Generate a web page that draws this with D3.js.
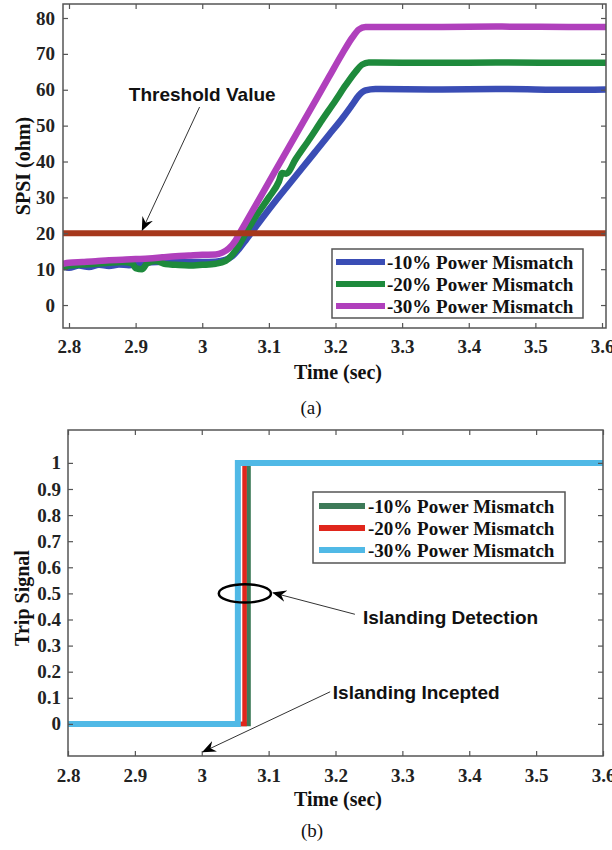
<!DOCTYPE html>
<html>
<head>
<meta charset="utf-8">
<script src="https://cdn.jsdelivr.net/npm/d3@7"></script>
<style>
  body { margin: 0; background: #fff; }
  .tick text { font-family: "Liberation Serif", "Times New Roman", serif; font-weight: bold; font-size: 19px; fill: #222; }
  .tick line { stroke: #555; stroke-width: 1.2; }
  .frame { fill: none; stroke: #555; stroke-width: 1.5; }
  .axis-label { font-family: "Liberation Serif", "Times New Roman", serif; font-weight: bold; font-size: 20px; fill: #111; }
  .legend-text { font-family: "Liberation Serif", "Times New Roman", serif; font-weight: bold; font-size: 19px; fill: #111; }
  .note { font-family: "Liberation Sans", Arial, sans-serif; font-weight: bold; font-size: 19px; fill: #111; }
  .caption { font-family: "Liberation Serif", "Times New Roman", serif; font-size: 19px; fill: #111; }
</style>
</head>
<body>
<div id="chart"></div>
<script>
// ---- data, panel (a): SPSI (ohm) against time (sec) ----
const t10 = [2.791, 2.80, 2.815, 2.83, 2.845, 2.86, 2.875, 2.89, 2.905, 2.92, 2.94, 2.96, 2.98, 3.00, 3.02, 3.035, 3.045, 3.055, 3.065, 3.075, 3.09, 3.11, 3.13, 3.15, 3.17, 3.19, 3.21, 3.225, 3.235, 3.245, 3.26, 3.35, 3.45, 3.55, 3.606];
const s10 = [10.8, 10.4, 11.0, 10.6, 11.2, 10.9, 11.3, 11.1, 11.6, 11.9, 12.1, 12.2, 12.0, 12.0, 12.1, 12.6, 13.6, 15.6, 18.0, 20.5, 24.2, 29.0, 33.6, 38.2, 42.8, 47.4, 52.0, 55.8, 58.4, 59.8, 60.2, 60.1, 60.2, 60.0, 60.1];

const t20 = [2.791, 2.80, 2.82, 2.84, 2.86, 2.88, 2.895, 2.90, 2.91, 2.917, 2.93, 2.945, 2.96, 2.98, 3.00, 3.02, 3.035, 3.045, 3.055, 3.065, 3.08, 3.10, 3.115, 3.12, 3.126, 3.14, 3.16, 3.18, 3.20, 3.215, 3.23, 3.24, 3.25, 3.35, 3.45, 3.55, 3.606];
const s20 = [10.5, 11.0, 11.3, 11.5, 11.8, 12.0, 11.6, 10.3, 10.0, 11.6, 12.3, 11.4, 11.2, 11.0, 11.2, 11.5, 12.3, 14.0, 16.6, 20.0, 24.6, 30.0, 34.4, 36.8, 36.6, 40.6, 46.0, 51.6, 57.0, 61.2, 65.0, 67.0, 67.6, 67.5, 67.6, 67.5, 67.5];

const t30 = [2.791, 2.80, 2.82, 2.84, 2.86, 2.88, 2.90, 2.92, 2.94, 2.96, 2.98, 3.00, 3.02, 3.03, 3.04, 3.05, 3.056, 3.07, 3.09, 3.11, 3.13, 3.15, 3.17, 3.19, 3.21, 3.225, 3.235, 3.245, 3.35, 3.45, 3.55, 3.606];
const s30 = [11.5, 11.8, 12.0, 12.2, 12.5, 12.6, 12.8, 13.0, 13.3, 13.6, 13.8, 14.0, 14.1, 14.6, 15.8, 18.0, 20.0, 24.5, 31.0, 37.5, 44.0, 50.5, 57.0, 63.5, 70.0, 74.5, 76.8, 77.5, 77.5, 77.6, 77.5, 77.5];

const thresholdValue = 20;
const mismatchNames = ["-10% Power Mismatch", "-20% Power Mismatch", "-30% Power Mismatch"];
const xTicks = [2.8, 2.9, 3.0, 3.1, 3.2, 3.3, 3.4, 3.5, 3.6];
const yTicksA = [0, 10, 20, 30, 40, 50, 60, 70, 80];

// ---- data, panel (b): trip signal, time at which each case trips ----
const tripTimes = [3.070, 3.064, 3.054];
const yTicksB = [0, 0.1, 0.2, 0.3, 0.4, 0.5, 0.6, 0.7, 0.8, 0.9, 1];

const colorsA = ["#3a4db5", "#1e8a3c", "#b040bc"];
const thresholdColor = "#a6381c";
const colorsB = ["#3d7a58", "#e0261c", "#50b9e6"];

const svg = d3.select("#chart").append("svg")
    .attr("width", 612)
    .attr("height", 850);

// arrowhead shared by the annotations
svg.append("defs").append("marker")
    .attr("id", "arrow")
    .attr("viewBox", "0 0 12 10")
    .attr("refX", 11).attr("refY", 5)
    .attr("markerWidth", 14).attr("markerHeight", 12)
    .attr("markerUnits", "userSpaceOnUse")
    .attr("orient", "auto")
    .append("path")
    .attr("d", "M0,0 L12,5 L0,10 L4,5 Z")
    .attr("fill", "#000");

const fmt = d => String(+d.toFixed(2));

function drawFrame(g, x, y, w, h, xPad, yPad, yTicks) {
    g.append("g")
        .attr("transform", `translate(0,${h})`)
        .call(d3.axisBottom(x).tickValues(xTicks).tickFormat(fmt).tickSize(-5).tickPadding(xPad))
        .call(a => a.select(".domain").remove());
    g.append("g")
        .call(d3.axisTop(x).tickValues(xTicks).tickFormat("").tickSize(-5))
        .call(a => a.select(".domain").remove());
    g.append("g")
        .call(d3.axisLeft(y).tickValues(yTicks).tickFormat(fmt).tickSize(-5).tickPadding(yPad))
        .call(a => a.select(".domain").remove());
    g.append("g")
        .attr("transform", `translate(${w},0)`)
        .call(d3.axisRight(y).tickValues(yTicks).tickFormat("").tickSize(-5))
        .call(a => a.select(".domain").remove());
    g.append("rect").attr("class", "frame").attr("width", w).attr("height", h);
}

// ================= panel (a) =================
const dimA = { left: 63, top: 4, width: 543, height: 324 };
const xA = d3.scaleLinear().domain([2.791, 3.606]).range([0, dimA.width]);
const yA = d3.scaleLinear().domain([-6.4, 83.9]).range([dimA.height, 0]);
const gA = svg.append("g").attr("transform", `translate(${dimA.left},${dimA.top})`);

gA.append("clipPath").attr("id", "clipA")
    .append("rect").attr("width", dimA.width).attr("height", dimA.height);

const lineA = d3.line().x(d => xA(d[0])).y(d => yA(d[1])).curve(d3.curveMonotoneX);
const seriesA = [[t10, s10], [t20, s20], [t30, s30]];

gA.append("g").attr("clip-path", "url(#clipA)")
    .selectAll("path")
    .data(seriesA)
    .enter().append("path")
    .attr("d", d => lineA(d3.zip(d[0], d[1])))
    .attr("fill", "none")
    .attr("stroke", (d, i) => colorsA[i])
    .attr("stroke-width", 6.5)
    .attr("stroke-linejoin", "round");

gA.append("line")
    .attr("x1", 0).attr("x2", dimA.width)
    .attr("y1", yA(thresholdValue)).attr("y2", yA(thresholdValue))
    .attr("stroke", thresholdColor)
    .attr("stroke-width", 6);

drawFrame(gA, xA, yA, dimA.width, dimA.height, 12, 8, yTicksA);

// threshold annotation
gA.append("text").attr("class", "note")
    .attr("x", xA(3.0)).attr("y", yA(57))
    .attr("text-anchor", "middle")
    .text("Threshold Value");
gA.append("line")
    .attr("x1", xA(2.996)).attr("y1", yA(55.2))
    .attr("x2", xA(2.910)).attr("y2", yA(20.9))
    .attr("stroke", "#333").attr("stroke-width", 1)
    .attr("marker-end", "url(#arrow)");

// legend (a)
const legA = svg.append("g").attr("transform", "translate(332,249)");
legA.append("rect").attr("width", 251).attr("height", 69)
    .attr("fill", "#fff").attr("stroke", "#555").attr("stroke-width", 1.5);
const itemsA = legA.selectAll(".item").data(mismatchNames).enter().append("g")
    .attr("transform", (d, i) => `translate(0,${13 + i * 22})`);
itemsA.append("line").attr("x1", 4).attr("x2", 53)
    .attr("stroke", (d, i) => colorsA[i]).attr("stroke-width", 6);
itemsA.append("text").attr("class", "legend-text").attr("x", 55).attr("y", 7).text(d => d);

svg.append("text").attr("class", "axis-label")
    .attr("transform", `translate(30,${dimA.top + dimA.height / 2}) rotate(-90)`)
    .attr("text-anchor", "middle").text("SPSI (ohm)");
svg.append("text").attr("class", "axis-label")
    .attr("x", 338).attr("y", 379).attr("text-anchor", "middle").text("Time (sec)");
svg.append("text").attr("class", "caption")
    .attr("x", 311).attr("y", 414).attr("text-anchor", "middle").text("(a)");

// ================= panel (b) =================
const dimB = { left: 68, top: 430, width: 535, height: 326 };
const xB = d3.scaleLinear().domain([2.8, 3.6]).range([0, dimB.width]);
const yB = d3.scaleLinear().domain([-0.123, 1.126]).range([dimB.height, 0]);
const gB = svg.append("g").attr("transform", `translate(${dimB.left},${dimB.top})`);

const lineB = d3.line().x(d => xB(d[0])).y(d => yB(d[1])).curve(d3.curveStepAfter);

gB.append("g").selectAll("path")
    .data(tripTimes)
    .enter().append("path")
    .attr("d", t => lineB([[2.8, 0], [t, 1], [3.6, 1]]))
    .attr("fill", "none")
    .attr("stroke", (d, i) => colorsB[i])
    .attr("stroke-width", (d, i) => i === 2 ? 6 : 4.5);

drawFrame(gB, xB, yB, dimB.width, dimB.height, 13, 7, yTicksB);

// detection ellipse and notes
gB.append("ellipse")
    .attr("cx", xB(3.0645)).attr("cy", yB(0.5))
    .attr("rx", xB(3.1035) - xB(3.0645)).attr("ry", yB(0.5) - yB(0.535))
    .attr("fill", "none").attr("stroke", "#000").attr("stroke-width", 2.5);
gB.append("line")
    .attr("x1", xB(3.229)).attr("y1", yB(0.42))
    .attr("x2", xB(3.107)).attr("y2", yB(0.502))
    .attr("stroke", "#333").attr("stroke-width", 1)
    .attr("marker-end", "url(#arrow)");
gB.append("text").attr("class", "note")
    .attr("x", xB(3.241)).attr("y", yB(0.383)).text("Islanding Detection");
gB.append("line")
    .attr("x1", xB(3.192)).attr("y1", yB(0.123))
    .attr("x2", xB(3.002)).attr("y2", yB(-0.107))
    .attr("stroke", "#333").attr("stroke-width", 1)
    .attr("marker-end", "url(#arrow)");
gB.append("text").attr("class", "note")
    .attr("x", xB(3.196)).attr("y", yB(0.096)).text("Islanding Incepted");

// legend (b)
const legB = svg.append("g").attr("transform", "translate(313,492)");
legB.append("rect").attr("width", 252).attr("height", 71)
    .attr("fill", "#fff").attr("stroke", "#555").attr("stroke-width", 1.5);
const itemsB = legB.selectAll(".item").data(mismatchNames).enter().append("g")
    .attr("transform", (d, i) => `translate(0,${14 + i * 22})`);
itemsB.append("line").attr("x1", 6).attr("x2", 52)
    .attr("stroke", (d, i) => colorsB[i]).attr("stroke-width", 6);
itemsB.append("text").attr("class", "legend-text").attr("x", 55).attr("y", 7).text(d => d);

svg.append("text").attr("class", "axis-label")
    .attr("transform", `translate(29,${dimB.top + dimB.height / 2 + 5}) rotate(-90)`)
    .attr("text-anchor", "middle").text("Trip Signal");
svg.append("text").attr("class", "axis-label")
    .attr("x", 338).attr("y", 806).attr("text-anchor", "middle").text("Time (sec)");
svg.append("text").attr("class", "caption")
    .attr("x", 312).attr("y", 837).attr("text-anchor", "middle").text("(b)");
</script>
</body>
</html>
